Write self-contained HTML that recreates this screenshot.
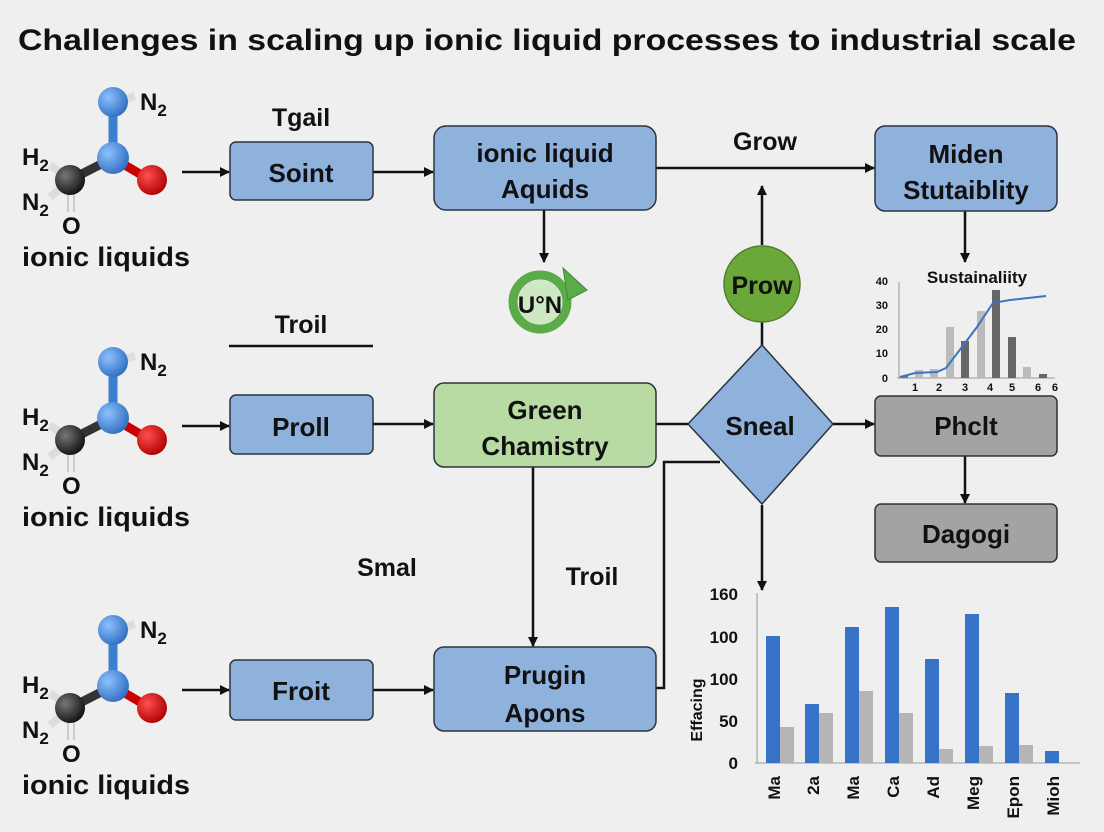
<!DOCTYPE html>
<html><head><meta charset="utf-8"><style>
html,body{margin:0;padding:0;background:#efefef;}
svg{display:block;font-family:"Liberation Sans",sans-serif;}
</style></head><body>
<svg width="1104" height="832" viewBox="0 0 1104 832" xmlns="http://www.w3.org/2000/svg">
<defs>
<marker id="ah" markerWidth="10" markerHeight="10" refX="9" refY="5" orient="auto" markerUnits="userSpaceOnUse"><path d="M0,0 L10,5 L0,10 z" fill="#111"/></marker>
<radialGradient id="gb" cx="35%" cy="35%" r="70%"><stop offset="0" stop-color="#8ec0ff"/><stop offset="1" stop-color="#2f6fc0"/></radialGradient>
<radialGradient id="gr" cx="35%" cy="35%" r="70%"><stop offset="0" stop-color="#ff5050"/><stop offset="1" stop-color="#b00000"/></radialGradient>
<radialGradient id="gk" cx="35%" cy="35%" r="70%"><stop offset="0" stop-color="#777"/><stop offset="1" stop-color="#111"/></radialGradient>
<g id="mol">
<line x1="113" y1="102" x2="135" y2="96" stroke="#ddd" stroke-width="8"/>
<line x1="113" y1="102" x2="113" y2="158" stroke="#3b7fd0" stroke-width="9"/>
<line x1="113" y1="158" x2="150" y2="180" stroke="#c00" stroke-width="9"/>
<line x1="113" y1="158" x2="70" y2="180" stroke="#333" stroke-width="9"/>
<line x1="70" y1="180" x2="50" y2="165" stroke="#ddd" stroke-width="8"/>
<line x1="70" y1="180" x2="50" y2="197" stroke="#ddd" stroke-width="8"/>
<line x1="68" y1="190" x2="68" y2="212" stroke="#ccc" stroke-width="2"/>
<line x1="74" y1="190" x2="74" y2="212" stroke="#ccc" stroke-width="2"/>
<circle cx="113" cy="102" r="15" fill="url(#gb)"/>
<circle cx="113" cy="158" r="16" fill="url(#gb)"/>
<circle cx="152" cy="180" r="15" fill="url(#gr)"/>
<circle cx="70" cy="180" r="15" fill="url(#gk)"/>
<g font-weight="bold" fill="#111" font-size="24">
<text x="140" y="110">N<tspan font-size="17" dy="6">2</tspan></text>
<text x="22" y="165">H<tspan font-size="17" dy="6">2</tspan></text>
<text x="22" y="210">N<tspan font-size="17" dy="6">2</tspan></text>
<text x="62" y="234">O</text>
<text x="22" y="266" font-size="27" textLength="168" lengthAdjust="spacingAndGlyphs">ionic liquids</text>
</g>
</g>
</defs>
<text x="18" y="50" font-size="30" font-weight="bold" fill="#111" textLength="1058" lengthAdjust="spacingAndGlyphs">Challenges in scaling up ionic liquid processes to industrial scale</text>

<use href="#mol"/>
<use href="#mol" y="260"/>
<use href="#mol" y="528"/>

<g stroke="#111" stroke-width="2.5" fill="none">
<line x1="182" y1="172" x2="229" y2="172" marker-end="url(#ah)"/>
<line x1="373" y1="172" x2="433" y2="172" marker-end="url(#ah)"/>
<line x1="656" y1="168" x2="874" y2="168" marker-end="url(#ah)"/>
<line x1="544" y1="210" x2="544" y2="262" marker-end="url(#ah)"/>
<line x1="762" y1="245" x2="762" y2="186" marker-end="url(#ah)"/>
<line x1="762" y1="322" x2="762" y2="346"/>
<line x1="965" y1="211" x2="965" y2="262" marker-end="url(#ah)"/>
<line x1="229" y1="346" x2="373" y2="346"/>
<line x1="182" y1="426" x2="229" y2="426" marker-end="url(#ah)"/>
<line x1="373" y1="424" x2="433" y2="424" marker-end="url(#ah)"/>
<line x1="656" y1="424" x2="688" y2="424"/>
<line x1="833" y1="424" x2="874" y2="424" marker-end="url(#ah)"/>
<line x1="965" y1="456" x2="965" y2="503" marker-end="url(#ah)"/>
<line x1="533" y1="467" x2="533" y2="646" marker-end="url(#ah)"/>
<polyline points="656,688 664,688 664,462 720,462"/>
<line x1="762" y1="505" x2="762" y2="590" marker-end="url(#ah)"/>
<line x1="182" y1="690" x2="229" y2="690" marker-end="url(#ah)"/>
<line x1="373" y1="690" x2="433" y2="690" marker-end="url(#ah)"/>
</g>

<g stroke="#2b3340" stroke-width="1.5">
<rect x="230" y="142" width="143" height="58" rx="6" fill="#8fb2dd"/>
<rect x="434" y="126" width="222" height="84" rx="12" fill="#8fb2dd"/>
<rect x="875" y="126" width="182" height="85" rx="10" fill="#8fb2dd"/>
<rect x="230" y="395" width="143" height="59" rx="6" fill="#8fb2dd"/>
<rect x="434" y="383" width="222" height="84" rx="10" fill="#b7dba3"/>
<rect x="875" y="396" width="182" height="60" rx="6" fill="#a3a3a3"/>
<rect x="875" y="504" width="182" height="58" rx="6" fill="#a3a3a3"/>
<rect x="230" y="660" width="143" height="60" rx="6" fill="#8fb2dd"/>
<rect x="434" y="647" width="222" height="84" rx="10" fill="#8fb2dd"/>
<polygon points="762,345 833,424 762,504 688,424" fill="#8fb2dd"/>
<circle cx="762" cy="284" r="38" fill="#6aa83a" stroke="#4f7f2b"/>
</g>

<circle cx="540" cy="302" r="27" fill="none" stroke="#5cab4a" stroke-width="9"/>
<circle cx="540" cy="302" r="22" fill="#cfe8c4"/>
<polygon points="563,268 587,290 568,300" fill="#5cab4a" stroke="#3f8a35" stroke-width="1"/>
<text x="540" y="313" font-size="24" font-weight="bold" text-anchor="middle" fill="#111">U°N</text>

<g font-weight="bold" fill="#111" text-anchor="middle">
<text x="301" y="126" font-size="25">Tgail</text>
<text x="765" y="150" font-size="25">Grow</text>
<text x="301" y="182" font-size="26">Soint</text>
<text x="545" y="162" font-size="26">ionic liquid</text>
<text x="545" y="198" font-size="26">Aquids</text>
<text x="966" y="163" font-size="26">Miden</text>
<text x="966" y="199" font-size="26">Stutaiblity</text>
<text x="762" y="294" font-size="25">Prow</text>
<text x="301" y="333" font-size="25">Troil</text>
<text x="301" y="436" font-size="26">Proll</text>
<text x="545" y="419" font-size="26">Green</text>
<text x="545" y="455" font-size="26">Chamistry</text>
<text x="760" y="435" font-size="26">Sneal</text>
<text x="966" y="435" font-size="26">Phclt</text>
<text x="966" y="543" font-size="26">Dagogi</text>
<text x="387" y="576" font-size="25">Smal</text>
<text x="592" y="585" font-size="25">Troil</text>
<text x="301" y="700" font-size="26">Froit</text>
<text x="545" y="684" font-size="26">Prugin</text>
<text x="545" y="722" font-size="26">Apons</text>
<text x="977" y="283" font-size="17">Sustainaliity</text>
</g>

<g font-weight="bold" font-size="11" fill="#111">
<line x1="899" y1="282" x2="899" y2="378" stroke="#999" stroke-width="1"/>
<line x1="897" y1="378" x2="1055" y2="378" stroke="#999" stroke-width="1"/>
<text x="888" y="285" text-anchor="end">40</text>
<text x="888" y="309" text-anchor="end">30</text>
<text x="888" y="333" text-anchor="end">20</text>
<text x="888" y="357" text-anchor="end">10</text>
<text x="888" y="382" text-anchor="end">0</text>
<text x="912" y="391">1</text><text x="936" y="391">2</text><text x="962" y="391">3</text><text x="987" y="391">4</text><text x="1009" y="391">5</text><text x="1035" y="391">6</text><text x="1058" y="391" text-anchor="end">6</text>
</g>
<g>
<rect x="900" y="376" width="8" height="2" fill="#777"/>
<rect x="915" y="370" width="8" height="8" fill="#bbb"/>
<rect x="930" y="369" width="8" height="9" fill="#bbb"/>
<rect x="946" y="327" width="8" height="51" fill="#bbb"/>
<rect x="961" y="341" width="8" height="37" fill="#666"/>
<rect x="977" y="311" width="8" height="67" fill="#bbb"/>
<rect x="992" y="290" width="8" height="88" fill="#666"/>
<rect x="1008" y="337" width="8" height="41" fill="#666"/>
<rect x="1023" y="367" width="8" height="11" fill="#bbb"/>
<rect x="1039" y="374" width="8" height="4" fill="#666"/>
<polyline points="900,377 915,373 937,372 946,368 962,347 977,327 993,303 1010,300 1046,296" fill="none" stroke="#3a75c4" stroke-width="2"/>
</g>

<g font-weight="bold" fill="#111" font-size="17">
<line x1="757" y1="593" x2="757" y2="763" stroke="#999"/>
<line x1="755" y1="763" x2="1080" y2="763" stroke="#999"/>
<text x="738" y="600" text-anchor="end">160</text>
<text x="738" y="643" text-anchor="end">100</text>
<text x="738" y="685" text-anchor="end">100</text>
<text x="738" y="727" text-anchor="end">50</text>
<text x="738" y="769" text-anchor="end">0</text>
<text transform="translate(702,710) rotate(-90)" text-anchor="middle" font-size="16">Effacing</text>
<g fill="#3572c8">
<rect x="766" y="636" width="14" height="127"/>
<rect x="805" y="704" width="14" height="59"/>
<rect x="845" y="627" width="14" height="136"/>
<rect x="885" y="607" width="14" height="156"/>
<rect x="925" y="659" width="14" height="104"/>
<rect x="965" y="614" width="14" height="149"/>
<rect x="1005" y="693" width="14" height="70"/>
<rect x="1045" y="751" width="14" height="12"/>
</g>
<g fill="#b5b5b5">
<rect x="780" y="727" width="14" height="36"/>
<rect x="819" y="713" width="14" height="50"/>
<rect x="859" y="691" width="14" height="72"/>
<rect x="899" y="713" width="14" height="50"/>
<rect x="939" y="749" width="14" height="14"/>
<rect x="979" y="746" width="14" height="17"/>
<rect x="1019" y="745" width="14" height="18"/>
</g>
<text transform="translate(780,776) rotate(-90)" text-anchor="end">Ma</text>
<text transform="translate(819,776) rotate(-90)" text-anchor="end">2a</text>
<text transform="translate(859,776) rotate(-90)" text-anchor="end">Ma</text>
<text transform="translate(899,776) rotate(-90)" text-anchor="end">Ca</text>
<text transform="translate(939,776) rotate(-90)" text-anchor="end">Ad</text>
<text transform="translate(979,776) rotate(-90)" text-anchor="end">Meg</text>
<text transform="translate(1019,776) rotate(-90)" text-anchor="end">Epon</text>
<text transform="translate(1059,776) rotate(-90)" text-anchor="end">Mioh</text>
</g>
</svg>
</body></html>
